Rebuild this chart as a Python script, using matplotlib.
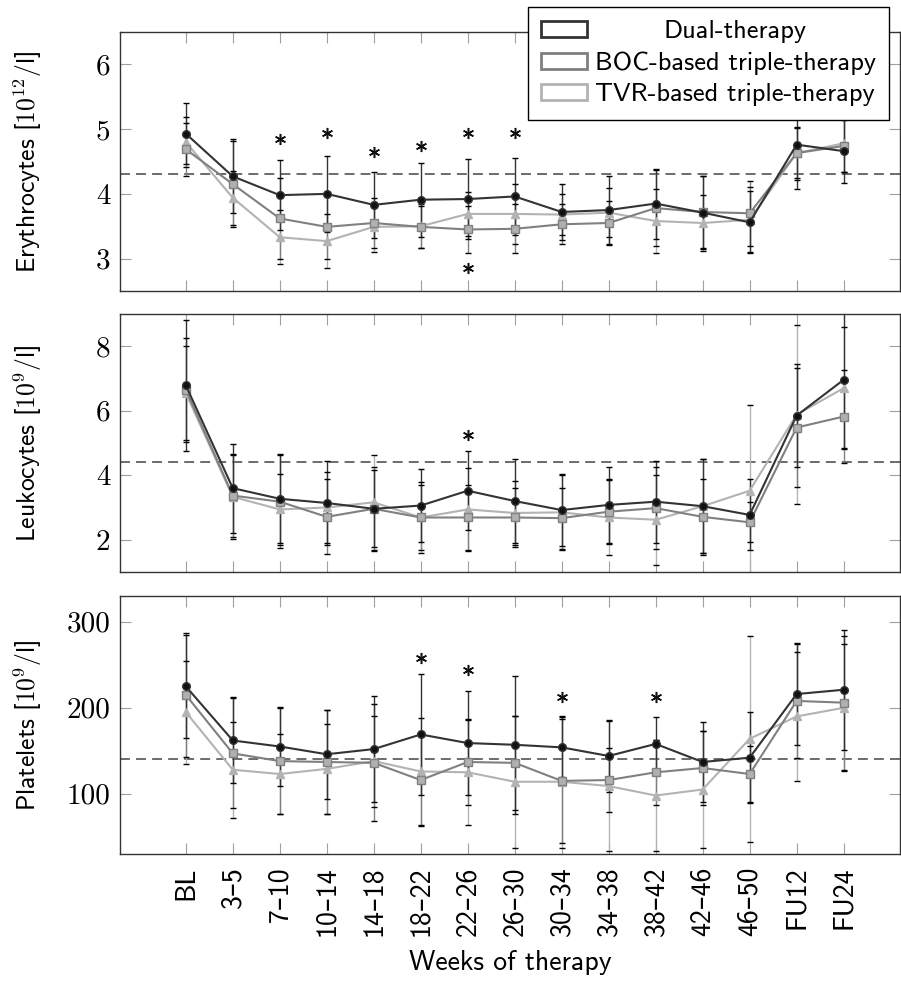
import matplotlib
matplotlib.use('Agg')
import numpy as np
import matplotlib.pyplot as plt
from matplotlib.patches import Patch

plt.rcParams['mathtext.fontset'] = 'cm'
SANS = ['cmss10', 'DejaVu Sans']
SERIF = ['cmr10', 'DejaVu Serif']

weeks = ['BL', '3–5', '7–10', '10–14', '14–18', '18–22', '22–26', '26–30',
         '30–34', '34–38', '38–42', '42–46', '46–50', 'FU12', 'FU24']
groups = ['Dual-therapy', 'BOC-based triple-therapy', 'TVR-based triple-therapy']

# erythrocytes (mean, sd)
dual_ery = [4.93, 4.27, 3.98, 4.00, 3.83, 3.91, 3.92, 3.96, 3.72, 3.75, 3.85, 3.71, 3.56, 4.76, 4.66]
dual_ery_sd = [0.47, 0.57, 0.54, 0.59, 0.51, 0.57, 0.62, 0.59, 0.43, 0.52, 0.54, 0.56, 0.48, 0.69, 0.49]
boc_ery = [4.69, 4.15, 3.62, 3.49, 3.55, 3.49, 3.45, 3.46, 3.53, 3.55, 3.78, 3.72, 3.70, 4.63, 4.74]
boc_ery_sd = [0.41, 0.66, 0.63, 0.50, 0.39, 0.32, 0.37, 0.38, 0.31, 0.34, 0.59, 0.55, 0.50, 0.41, 0.40]
tvr_ery = [4.80, 3.94, 3.33, 3.27, 3.49, 3.50, 3.69, 3.69, 3.68, 3.71, 3.58, 3.55, 3.60, 4.63, 4.78]
tvr_ery_sd = [0.38, 0.42, 0.42, 0.42, 0.39, 0.34, 0.34, 0.46, 0.32, 0.38, 0.50, 0.44, 0.50, 0.38, 0.44]

# leukocytes
dual_leu = [6.79, 3.60, 3.27, 3.14, 2.96, 3.06, 3.52, 3.20, 2.92, 3.08, 3.18, 3.04, 2.77, 5.85, 6.96]
dual_leu_sd = [2.03, 1.38, 1.38, 1.29, 1.20, 1.14, 1.22, 1.29, 1.11, 1.18, 1.27, 1.45, 1.10, 1.60, 2.10]
boc_leu = [6.65, 3.37, 3.18, 2.71, 2.96, 2.69, 2.69, 2.69, 2.67, 2.87, 2.98, 2.71, 2.54, 5.48, 5.82]
boc_leu_sd = [1.61, 1.30, 1.45, 1.16, 1.30, 1.00, 1.00, 0.90, 0.95, 1.00, 1.27, 1.18, 0.62, 1.84, 1.43]
tvr_leu = [6.55, 3.33, 2.94, 3.00, 3.16, 2.69, 2.94, 2.83, 2.85, 2.69, 2.62, 3.04, 3.52, 5.88, 6.70]
tvr_leu_sd = [1.45, 1.30, 1.10, 1.10, 1.47, 1.10, 1.28, 1.00, 1.17, 1.16, 1.40, 1.45, 2.67, 2.77, 1.90]

# platelets
dual_plt = [225, 162, 155, 146, 152, 169, 159, 157, 154, 144, 158, 137, 142, 216, 221]
dual_plt_sd = [60, 50, 46, 52, 62, 70, 60, 80, 35, 42, 31, 46, 53, 59, 70]
boc_plt = [215, 147, 138, 137, 136, 116, 137, 136, 115, 116, 125, 130, 123, 208, 206]
boc_plt_sd = [72, 64, 62, 60, 68, 53, 50, 55, 72, 37, 38, 43, 33, 66, 78]
tvr_plt = [195, 128, 123, 129, 138, 126, 125, 114, 114, 109, 98, 105, 164, 190, 200]
tvr_plt_sd = [60, 56, 47, 52, 53, 62, 61, 77, 77, 76, 65, 68, 120, 75, 74]

# significance markers (week index, y position)
ery_star_x = [2, 3, 4, 5, 6, 7, 6]
ery_star_y = [4.85, 4.94, 4.65, 4.74, 4.94, 4.94, 2.86]
leu_star_x = [6]
leu_star_y = [5.26]
plt_star_x = [5, 6, 8, 10]
plt_star_y = [258, 243.5, 212.8, 212.8]

ery_ref, leu_ref, plt_ref = 4.3, 4.4, 140

colors = ['#333333', '#808080', '#b3b3b3']
markers = ['o', 's', '^']
face = ['#111111', '#b0b0b0', '#b3b3b3']

panels = [
    (r'Erythrocytes [$\mathsf{10^{12}}$/l]', [(dual_ery, dual_ery_sd), (boc_ery, boc_ery_sd), (tvr_ery, tvr_ery_sd)],
     ery_ref, (2.5, 6.5), [3, 4, 5, 6], ery_star_x, ery_star_y),
    (r'Leukocytes [$\mathsf{10^{9}}$/l]', [(dual_leu, dual_leu_sd), (boc_leu, boc_leu_sd), (tvr_leu, tvr_leu_sd)],
     leu_ref, (1, 9), [2, 4, 6, 8], leu_star_x, leu_star_y),
    (r'Platelets [$\mathsf{10^{9}}$/l]', [(dual_plt, dual_plt_sd), (boc_plt, boc_plt_sd), (tvr_plt, tvr_plt_sd)],
     plt_ref, (30, 330), [100, 200, 300], plt_star_x, plt_star_y),
]

fig = plt.figure(figsize=(9.01, 9.85), dpi=100)
rects = [[0.1332, 0.7046, 0.8657, 0.2629],
         [0.1332, 0.4193, 0.8657, 0.2619],
         [0.1332, 0.1330, 0.8657, 0.2619]]
x = np.arange(len(weeks))

axes = []
for i, (label, series, ref, ylim, yticks, sx, sy) in enumerate(panels):
    ax = fig.add_axes(rects[i])
    axes.append(ax)
    ax.axhline(ref, color='#444444', lw=1.1, ls=(0, (6.5, 4)), zorder=1)
    # draw dual last so it sits on top
    for k in [2, 1, 0]:
        mean, sd = np.array(series[k][0], float), np.array(series[k][1], float)
        ax.errorbar(x, mean, yerr=sd, fmt='none', ecolor=colors[k], elinewidth=1.0,
                    capsize=0, zorder=2)
        ax.plot(x, mean + sd, ls='none', marker='_', color='black', ms=4, mew=1.0, zorder=2.5)
        ax.plot(x, mean - sd, ls='none', marker='_', color='black', ms=4, mew=1.0, zorder=2.5)
    for k in [2, 1, 0]:
        mean = series[k][0]
        ax.plot(x, mean, color=colors[k], lw=1.5, marker=markers[k], ms=5.5,
                mfc=face[k], mec=colors[k], mew=1.0, zorder=3 + (2 - k) * 0.1)
    # six-armed asterisks for significant differences
    ax.plot(sx, sy, ls='none', marker=(6, 2, 0), ms=8, mew=1.1, color='#111111', zorder=4)

    ax.set_xlim(-1.4, 15.2)
    ax.set_ylim(*ylim)
    ax.set_yticks(yticks, labels=[str(t) for t in yticks], fontfamily=SERIF)
    ax.set_xticks(x, labels=weeks, rotation=90, fontfamily=SANS)
    ax.tick_params(direction='in', length=8, width=0.8, color='#a0a0a0',
                   top=True, right=True, labelsize=21, pad=7)
    ax.tick_params(axis='x', pad=9, labelsize=20)
    if i < 2:
        ax.tick_params(axis='x', labelbottom=False)
    for s in ax.spines.values():
        s.set_color('#333333')
        s.set_linewidth(1.0)
    ax.set_ylabel(label, fontsize=18.5, fontfamily=SANS)
    ax.yaxis.set_label_coords(-0.097, 0.5)

axes[2].set_xlabel('Weeks of therapy', fontsize=20, fontfamily=SANS, labelpad=10)

handles = [Patch(facecolor='white', edgecolor=c, lw=2) for c in colors]
leg = axes[0].legend(handles, groups, loc='upper right', bbox_to_anchor=(0.986, 1.097),
                     borderaxespad=0, prop={'family': SANS, 'size': 19}, fancybox=False,
                     framealpha=1, edgecolor='black', borderpad=0.5, handlelength=1.75,
                     handleheight=0.55, handletextpad=0.3, labelspacing=0.32)
leg.get_frame().set_linewidth(1.0)
leg.set_zorder(10)

# centre the first legend entry within the text column
fig.canvas.draw()
texts = leg.get_texts()
widths = [t.get_window_extent().width for t in texts]
texts[0].set_x((max(widths) - widths[0]) / 2)

fig.savefig('out.png', dpi=100)
